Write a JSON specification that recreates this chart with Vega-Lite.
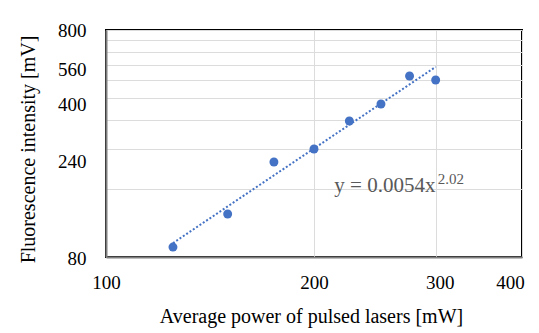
{
  "$schema": "https://vega.github.io/schema/vega-lite/v6.json",
  "width": 416,
  "height": 227,
  "autosize": {"type": "none"},
  "padding": {"left": 106, "top": 30, "right": 17, "bottom": 76},
  "background": "white",
  "config": {
    "view": {"stroke": "#000000", "strokeWidth": 2},
    "font": "Liberation Serif, serif",
    "axis": {"labelFont": "Liberation Serif, serif", "titleFont": "Liberation Serif, serif"}
  },
  "datasets": {
    "pts": [
      {"power": 125, "intensity": 88.5},
      {"power": 150, "intensity": 123.7},
      {"power": 175, "intensity": 209.7},
      {"power": 200, "intensity": 239.3},
      {"power": 225, "intensity": 317.8},
      {"power": 250, "intensity": 377.6},
      {"power": 275, "intensity": 501.8},
      {"power": 300, "intensity": 481.8}
    ],
    "eq": [{"power": 214, "intensity": 155, "label": "y = 0.0054x"}],
    "sup": [{"power": 302, "intensity": 168, "label": "2.02"}]
  },
  "encoding": {
    "x": {
      "field": "power",
      "type": "quantitative",
      "scale": {"type": "log", "domain": [100, 400], "nice": false},
      "axis": {
        "values": [100, 200, 300, 400],
        "labelExpr": "'' + datum.value",
        "title": "Average  power of pulsed lasers [mW]",
        "grid": true,
        "gridColor": "#dcdcdc",
        "gridWidth": 1,
        "ticks": false,
        "tickSize": 0,
        "domainColor": "#7f7f7f",
        "domainWidth": 2,
        "labelFontSize": 19,
        "labelColor": "#000000",
        "labelBaseline": "middle",
        "labelPadding": 25,
        "labelOffset": {"expr": "datum.value == 300 ? 4 : datum.value == 400 ? -12 : 0"},
        "encode": {"labels": {"update": {"dy": {"signal": "datum.value == 100 ? 0 : datum.value == 400 ? 15 : 13"}}}},
        "labelFlush": false,
        "labelOverlap": false,
        "titleFontSize": 20,
        "titleFontWeight": "normal",
        "titleColor": "#000000",
        "titleBaseline": "alphabetic",
        "titleAlign": "center",
        "titleX": 205,
        "titleY": 65
      }
    },
    "y": {
      "field": "intensity",
      "type": "quantitative",
      "scale": {"type": "log", "domain": [80, 800], "nice": false},
      "axis": {
        "values": [80, 160, 240, 320, 400, 480, 560, 640, 720, 800],
        "labelExpr": "indexof([80, 240, 400, 560, 800], datum.value) >= 0 ? '' + datum.value : ''",
        "title": "Fluorescence intensity [mV]",
        "grid": true,
        "gridColor": "#dcdcdc",
        "gridWidth": 1,
        "ticks": false,
        "tickSize": 0,
        "domainColor": "#7f7f7f",
        "domainWidth": 2,
        "labelFontSize": 19,
        "labelColor": "#000000",
        "labelPadding": 20,
        "labelOffset": {"expr": "datum.value == 240 ? 13 : datum.value == 400 ? 6 : datum.value == 560 ? 4 : datum.value == 80 ? 1 : 0"},
        "labelFlush": false,
        "labelOverlap": false,
        "titleFontSize": 20,
        "titleFontWeight": "normal",
        "titleColor": "#000000",
        "titleAngle": -90,
        "titleBaseline": "middle",
        "titleAlign": "center",
        "titleX": -78,
        "titleY": 119
      }
    }
  },
  "layer": [
    {
      "data": {"name": "pts"},
      "transform": [
        {"regression": "intensity", "on": "power", "method": "pow", "extent": [125, 300]}
      ],
      "mark": {"type": "line", "color": "#4472C4", "strokeDash": [2, 2], "strokeWidth": 2}
    },
    {
      "data": {"name": "pts"},
      "mark": {"type": "circle", "size": 80, "color": "#4472C4", "opacity": 1}
    },
    {
      "data": {"name": "eq"},
      "mark": {"type": "text", "align": "left", "baseline": "alphabetic", "font": "Liberation Serif, serif", "fontSize": 21, "color": "#595959"},
      "encoding": {"text": {"field": "label"}}
    },
    {
      "data": {"name": "sup"},
      "mark": {"type": "text", "align": "left", "baseline": "alphabetic", "font": "Liberation Serif, serif", "fontSize": 15, "color": "#595959"},
      "encoding": {"text": {"field": "label"}}
    }
  ]
}
